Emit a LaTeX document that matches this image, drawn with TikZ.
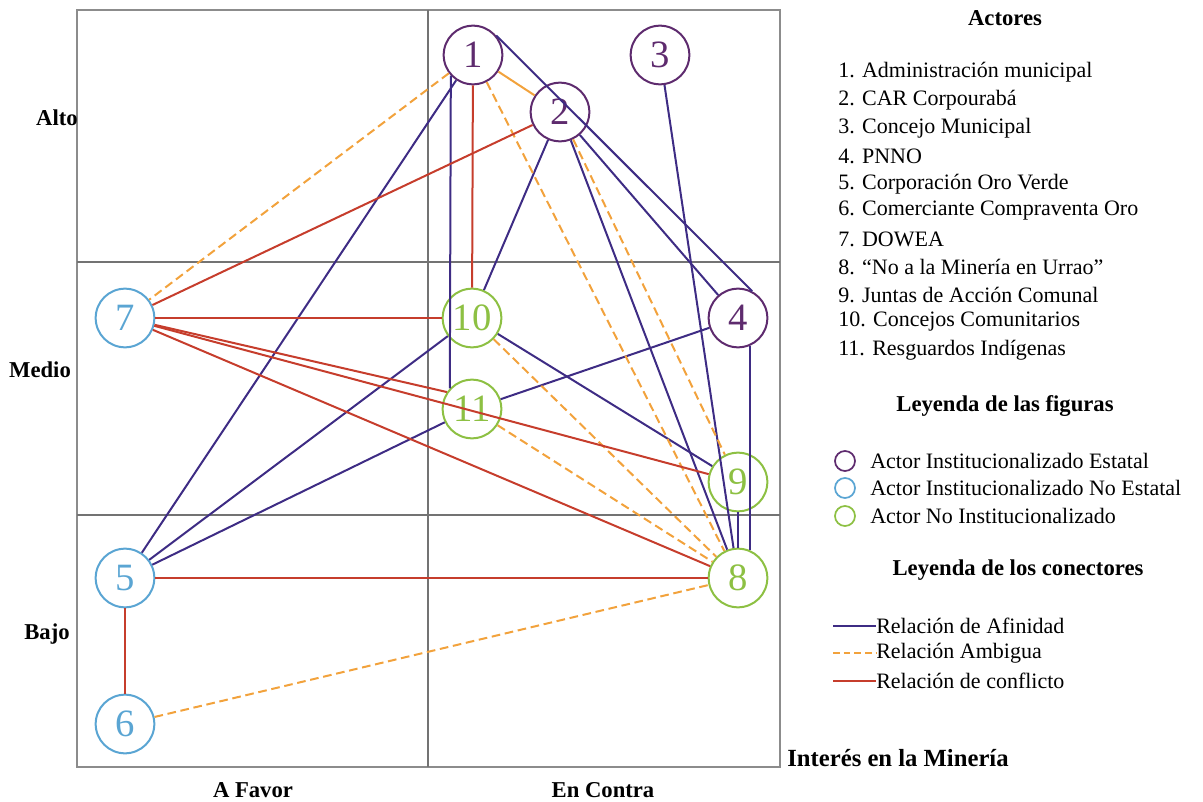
\documentclass[tikz,border=0pt]{standalone}
\usepackage{fontspec}
\setmainfont{Liberation Serif}
\usepackage{xcolor}
\usepackage{tikz}

\definecolor{estatal}{HTML}{5E2B6E}
\definecolor{noestatal}{HTML}{5AA5D3}
\definecolor{noinst}{HTML}{8DC043}
\definecolor{afin}{HTML}{3E2C84}
\definecolor{ambig}{HTML}{F2A23C}
\definecolor{confl}{HTML}{C63D2C}

\begin{document}
\begin{tikzpicture}[x=0.75pt,y=-0.75pt]
\useasboundingbox (0,0) rectangle (1203,802);

% cuadrantes
\draw[gray!90, line width=1pt] (77,10) rectangle (780,767);
\draw[gray!90!black, line width=2pt] (428,10) -- (428,767);
\draw[gray!90!black, line width=2pt] (77,262) -- (780,262);
\draw[gray!90!black, line width=2pt] (77,515) -- (780,515);

\begin{scope}[every node/.style={font=\fontsize{17}{20}\selectfont\bfseries}]
    \node (alto) at (57,118) {Alto};
    \node (medio) at (40,370) {Medio};
    \node (bajo) at (47,634) {Bajo};
    \node (favor) at (253,790) {A Favor};
    \node (contra) at (603,790) {En Contra};
    \node[font=\fontsize{18.5}{22}\selectfont\bfseries] (interes) at (898,758) {Interés en la Minería};
    \end{scope}

\begin{scope}[every node/.style={circle,line width=1.5pt,draw,minimum size=44pt,inner sep=0pt,font=\fontsize{29}{29}\selectfont}]
    \node[estatal,text=estatal] (a1) at (473,55) {1};
    \node[estatal,text=estatal] (a2) at (560,112) {2};
    \node[estatal,text=estatal] (a3) at (660,55) {3};
    \node[estatal,text=estatal] (a4) at (738,318) {4};
    \node[noestatal,text=noestatal] (a5) at (125,578) {5};
    \node[noestatal,text=noestatal] (a6) at (125,724) {6};
    \node[noestatal,text=noestatal] (a7) at (125,318) {7};
    \node[noinst,text=noinst] (a8) at (738,578) {8};
    \node[noinst,text=noinst] (a9) at (738,482) {9};
    \node[noinst,text=noinst] (a10) at (472,318) {10};
    \node[noinst,text=noinst] (a11) at (472,409) {11};
    \end{scope}

% relaciones de afinidad
\begin{scope}[every edge/.style={draw=afin,line width=1.5pt}]
    \path (a1.40) edge (a4.62);
    \path (a2) edge (a4);
    \path (a1) edge (a5);
    \path (a1.223) edge (a11.137);
    \path (a2) edge (a10);
    \path (a2) edge (a8);
    \path (a3) edge (a8);
    \path (a4) edge (a11);
    \path (a4.-66) edge (a8.66);
    \path (a9) edge (a8);
    \path (a10) edge (a5);
    \path (a11) edge (a5);
    \path (a10) edge (a9);
    \end{scope}

% relaciones ambiguas
\begin{scope}[every edge/.style={draw=ambig,line width=1.5pt,dash pattern=on 6.5pt off 3.5pt}]
    \path (a1) edge (a7);
    \path (a1) edge[solid] (a2);
    \path (a1) edge (a8);
    \path (a2) edge (a9);
    \path (a10) edge (a8);
    \path (a11) edge (a8);
    \path (a6) edge (a8);
    \end{scope}

% relaciones de conflicto
\begin{scope}[every edge/.style={draw=confl,line width=1.5pt}]
    \path (a1) edge (a10);
    \path (a7) edge (a2);
    \path (a7) edge (a10);
    \path (a7) edge (a11.146);
    \path (a7) edge (a9);
    \path (a7) edge (a8);
    \path (a5) edge (a8);
    \path (a5) edge (a6);
    \end{scope}

% actores
\begin{scope}[every node/.style={anchor=west,inner sep=0pt,font=\fontsize{16.5}{20}\selectfont}]
    \node[anchor=center,font=\fontsize{17}{20}\selectfont\bfseries] (tactores) at (1005,18) {Actores};
    \node (l1) at (838,72) {1. Administración municipal};
    \node (l2) at (838,100) {2. CAR Corpourabá};
    \node (l3) at (838,128) {3. Concejo Municipal};
    \node (l4) at (838,156) {4. PNNO};
    \node (l5) at (838,184) {5. Corporación Oro Verde};
    \node (l6) at (838,211) {6. Comerciante Compraventa Oro};
    \node (l7) at (838,239) {7. DOWEA};
    \node (l8) at (838,267) {8. “No a la Minería en Urrao”};
    \node (l9) at (838,295) {9. Juntas de Acción Comunal};
    \node (l10) at (838,322) {10. Concejos Comunitarios};
    \node (l11) at (838,350) {11. Resguardos Indígenas};

    \node[anchor=center,font=\fontsize{17}{20}\selectfont\bfseries] (tfiguras) at (1005,406) {Leyenda de las figuras};
    \node (f1) at (870,461) {Actor Institucionalizado Estatal};
    \node (f2) at (870,488) {Actor Institucionalizado No Estatal};
    \node (f3) at (870,516) {Actor No Institucionalizado};

    \node[anchor=center,font=\fontsize{17}{20}\selectfont\bfseries] (tconectores) at (1018,570) {Leyenda de los conectores};
    \node (c1) at (876,626) {Relación de Afinidad};
    \node (c2) at (876,653) {Relación Ambigua};
    \node (c3) at (876,681) {Relación de conflicto};
    \end{scope}

\draw[estatal,line width=1.3pt] (845,461) circle (7.5pt);
\draw[noestatal,line width=1.3pt] (845,488) circle (7.5pt);
\draw[noinst,line width=1.3pt] (845,516) circle (7.5pt);

\coordinate (k1) at (833,626);
\coordinate (k2) at (833,653);
\coordinate (k3) at (833,681);
\draw[afin,line width=1.2pt] (k1) -- (c1.west);
\draw[ambig,line width=1.2pt,dash pattern=on 5pt off 3pt] (k2) -- (c2.west);
\draw[confl,line width=1.2pt] (k3) -- (c3.west);

\end{tikzpicture}
\end{document}
